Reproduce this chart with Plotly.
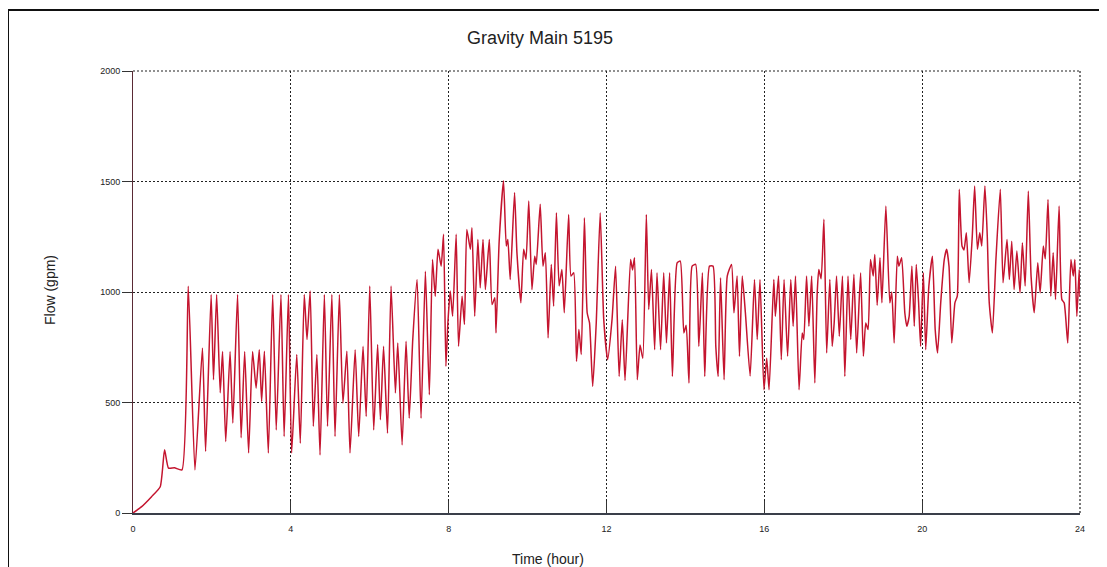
import plotly.graph_objects as go

# Time (hour) and flow (gpm) values
time_hr = [
    0.00, 0.22, 0.47, 0.69, 0.80, 0.90, 1.05, 1.24, 1.40, 1.57, 1.76, 1.84, 1.98, 2.04, 2.12, 2.21,
    2.27, 2.35, 2.46, 2.53, 2.65, 2.74, 2.83, 2.93, 3.03, 3.12, 3.20, 3.26, 3.33, 3.43, 3.54, 3.63,
    3.75, 3.83, 3.94, 4.02, 4.15, 4.24, 4.34, 4.41, 4.49, 4.57, 4.66, 4.74, 4.85, 4.93, 5.04, 5.12,
    5.23, 5.32, 5.42, 5.50, 5.63, 5.72, 5.83, 5.91, 6.00, 6.10, 6.20,
    6.27, 6.35, 6.45, 6.54, 6.65, 6.71, 6.82, 6.92, 7.00, 7.09, 7.20, 7.30, 7.41, 7.51, 7.59, 7.66,
    7.73, 7.81, 7.87, 7.93, 7.98, 8.04, 8.10, 8.19, 8.25, 8.34, 8.40, 8.46, 8.55, 8.59, 8.66, 8.74,
    8.80, 8.87, 8.93, 9.03, 9.10, 9.17, 9.20, 9.28, 9.39,
    9.46, 9.50, 9.56, 9.67, 9.73, 9.83, 9.90, 9.96, 10.03, 10.11, 10.18, 10.22, 10.32, 10.39, 10.45,
    10.52, 10.60, 10.66, 10.73, 10.80, 10.87, 10.93, 11.04, 11.10, 11.17, 11.24, 11.30, 11.36, 11.44,
    11.51, 11.57, 11.65, 11.74, 11.84, 11.93, 12.03, 12.14, 12.23, 12.32, 12.40, 12.47,
    12.61, 12.66, 12.71, 12.78, 12.85, 12.92, 13.01, 13.07, 13.14, 13.22, 13.28, 13.37, 13.45, 13.52,
    13.60, 13.67, 13.79, 13.87, 13.96, 14.02, 14.09, 14.17, 14.26, 14.34, 14.43, 14.49, 14.61, 14.70,
    14.77, 14.83, 14.89, 14.98, 15.06, 15.17, 15.23, 15.31, 15.37, 15.44, 15.52, 15.64,
    15.75, 15.82, 15.89, 15.99, 16.06, 16.12, 16.24, 16.28, 16.36, 16.43, 16.50, 16.59, 16.67, 16.73,
    16.79, 16.88, 16.96, 17.00, 17.07, 17.13, 17.20, 17.28, 17.34, 17.38, 17.44, 17.51, 17.58, 17.66,
    17.72, 17.77, 17.83, 17.90, 17.98, 18.04, 18.12, 18.19, 18.27, 18.34, 18.44, 18.51, 18.57, 18.63,
    18.69, 18.76, 18.80, 18.86,
    18.93, 18.98, 19.08, 19.18, 19.23, 19.29, 19.37, 19.41, 19.48, 19.56, 19.61, 19.67, 19.74, 19.80,
    19.85, 19.91, 19.96, 20.03, 20.09, 20.17, 20.26, 20.33, 20.39, 20.47, 20.56, 20.62, 20.68, 20.75,
    20.83, 20.89, 20.94, 21.01, 21.06, 21.12, 21.19, 21.27, 21.33, 21.40, 21.46, 21.51, 21.59, 21.65,
    21.70, 21.78, 21.87, 21.98, 22.05,
    22.15, 22.21, 22.27, 22.33, 22.40, 22.48, 22.54, 22.61, 22.69, 22.76, 22.84, 22.93, 22.99, 23.07,
    23.12, 23.19, 23.26, 23.32, 23.38, 23.47, 23.54, 23.60, 23.69, 23.77, 23.83, 23.87, 23.92, 23.98,
    24.00,
]

flow_gpm = [
    0, 29, 74, 119, 286, 203, 205, 195, 1026, 195, 747, 278, 989, 603, 989, 544,
    731, 323, 731, 407, 989, 340, 731, 272, 731, 565, 739, 505, 732, 271, 989, 376,
    989, 346, 989, 271, 717, 316, 989, 785, 1004, 392, 717, 263, 989, 392, 989, 346,
    989, 497, 732, 271, 739, 346, 754, 437, 1027, 376, 762,
    422, 754, 361, 1027, 543, 769, 308, 777, 429, 785, 1057, 429, 1094, 535, 1147, 981,
    1193, 1117, 1261, 664, 860, 1004, 890, 1261, 754, 981, 853, 1283, 1193, 1291, 890, 1238,
    1019, 1238, 1011, 1238, 943, 974, 815, 1230, 1503,
    1208, 1238, 1057, 1450, 1178, 951, 1193, 1147, 1412, 1011, 1162, 1125, 1397, 1117, 1178,
    792, 1125, 936, 1359, 1027, 1102, 906, 1351, 1072, 1087, 686, 830, 717, 1336,
    906, 860, 573, 860, 1359, 875, 694, 875, 1117, 618, 875, 600,
    1147, 1100, 1155, 603, 760, 700, 1351, 921, 1102, 739, 1087, 739, 1087, 769,
    1087, 618, 1132, 1140, 815, 849, 588, 1117, 1125, 754, 1087, 618, 1117, 1117,
    754, 618, 1064, 603, 1072, 1125, 906, 1072, 709, 1072, 906, 620,
    1057, 785, 1057, 558, 700, 558, 1057, 890, 1072, 694, 1057, 709, 1057, 845,
    1072, 558, 815, 785, 1072, 845, 1072, 588, 996, 1102, 1060, 1329, 724, 1057,
    754, 860, 1072, 800, 1072, 618, 1072, 785, 1080, 724, 1087, 709, 860, 830,
    1147, 1072, 1170, 940,
    1155, 951, 1389, 951, 1000, 769, 1162, 1117, 1155, 906, 845, 890, 1117, 845,
    1125, 951, 754, 1087, 739, 1027, 1162, 830, 724, 951, 1147, 1193, 1117, 769,
    951, 981, 1465, 1208, 1190, 1268, 1042, 1253, 1480, 1193, 1268, 1208, 1480, 1253,
    951, 815, 1150, 1465, 1042,
    1238, 1057, 1230, 1011, 1185, 996, 1223, 1027, 1457, 1072, 906, 1132, 996, 1208,
    1150, 1419, 981, 1178, 966, 1389, 966, 950, 769, 1147, 1072, 1147, 890, 1102,
    980,
]

x_ticks = [0, 4, 8, 12, 16, 20, 24]
y_ticks = [0, 500, 1000, 1500, 2000]

title_text = "Gravity Main 5195"
x_title = "Time (hour)"
y_title = "Flow (gpm)"

# The page places the figure 8 px in from the top-left corner, so the
# layout below is expressed in target-screen pixels minus that offset.
OFF = 8
W, H = 1107, 567
PLOT_L, PLOT_R, PLOT_T, PLOT_B = 133, 1080, 71, 513   # target screen pixels
L = PLOT_L - OFF
T = PLOT_T - OFF
R = W - (PLOT_R - OFF)
B = H - (PLOT_B - OFF)
pw, ph = PLOT_R - PLOT_L, PLOT_B - PLOT_T


def px_to_paper_x(px):
    return (px - PLOT_L) / pw


def px_to_paper_y(py):
    return (PLOT_B - py) / ph


fig = go.Figure()
fig.add_trace(go.Scatter(
    x=time_hr, y=flow_gpm, mode="lines",
    line=dict(color="#c4152f", width=1.5, shape="spline", smoothing=0.5),
    showlegend=False, hoverinfo="skip",
))

tickfont = dict(family="Liberation Sans Narrow, Liberation Sans, Arial", size=9, color="#222")
grid_dash = "2px,2px"

fig.update_layout(
    width=W, height=H,
    margin=dict(l=L, r=R, t=T, b=B, pad=0),
    paper_bgcolor="white", plot_bgcolor="white",
    title=dict(text=title_text, x=(540 - OFF) / W, xref="container", xanchor="center",
               y=1 - (38 - OFF) / H, yref="container", yanchor="middle",
               font=dict(family="Liberation Sans, Arial", size=18, color="#222")),
    xaxis=dict(range=[0, 24], tickvals=x_ticks, ticktext=[str(v) for v in x_ticks],
               showgrid=True, gridcolor="#222", griddash=grid_dash, gridwidth=1.2,
               ticks="inside", ticklen=12, tickcolor="#333", tickwidth=1,
               ticklabelstandoff=6,
               showline=True, linecolor="#3a3f4a", linewidth=2,
               zeroline=False, tickfont=tickfont, fixedrange=True),
    yaxis=dict(range=[0, 2000], tickvals=y_ticks, ticktext=[str(v) for v in y_ticks],
               showgrid=True, gridcolor="#222", griddash=grid_dash, gridwidth=1.2,
               ticks="outside", ticklen=10, tickcolor="#333", tickwidth=1,
               showline=True, linecolor="#5a2a35", linewidth=1,
               zeroline=False, tickfont=tickfont, fixedrange=True),
    annotations=[
        dict(text=y_title, xref="paper", yref="paper",
             x=px_to_paper_x(50), y=px_to_paper_y(290), textangle=-90,
             showarrow=False, xanchor="center", yanchor="middle",
             font=dict(family="Liberation Sans, Arial", size=14, color="#222")),
        dict(text=x_title, xref="paper", yref="paper",
             x=px_to_paper_x(548), y=px_to_paper_y(549),
             showarrow=False, xanchor="center", yanchor="top",
             font=dict(family="Liberation Sans, Arial", size=14, color="#222")),
    ],
    shapes=[
        dict(type="rect", xref="paper", yref="paper",
             x0=px_to_paper_x(8), x1=px_to_paper_x(1112),
             y0=px_to_paper_y(575), y1=px_to_paper_y(10),
             line=dict(color="#111", width=2), fillcolor="rgba(0,0,0,0)", layer="below"),
        # dotted frame lines at the top (2000) and right (24) edges of the plot
        dict(type="line", xref="paper", yref="paper", x0=0, x1=1, y0=1, y1=1,
             line=dict(color="#222", width=1.2, dash=grid_dash), layer="below"),
        dict(type="line", xref="paper", yref="paper", x0=1, x1=1, y0=0, y1=1,
             line=dict(color="#222", width=1.2, dash=grid_dash), layer="below"),
    ],
)

fig.write_html("out.html")
